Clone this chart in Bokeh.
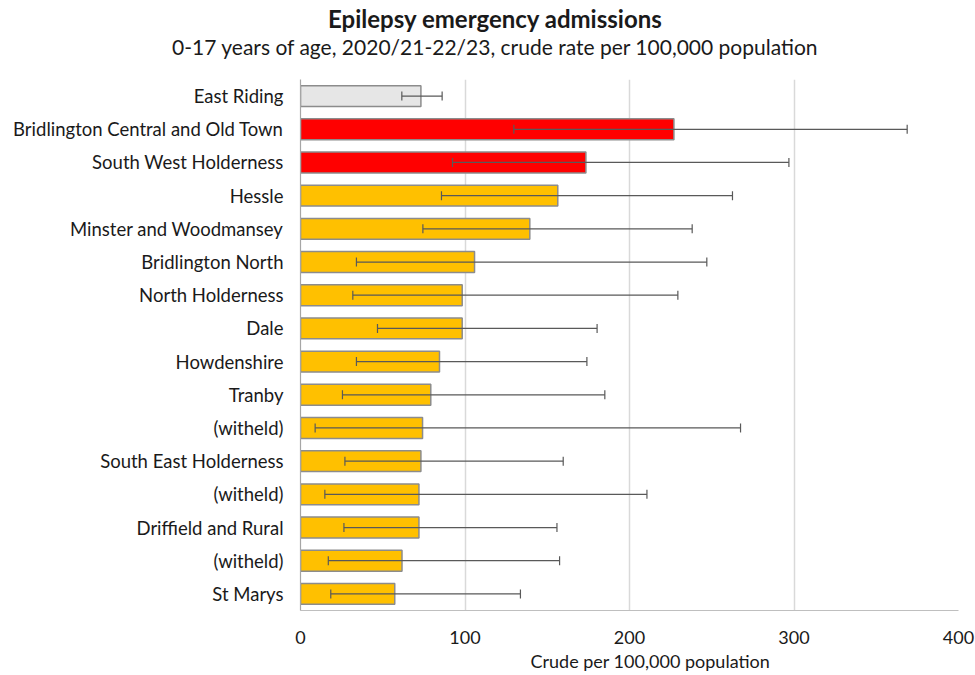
from bokeh.plotting import figure
from bokeh.layouts import column
from bokeh.models import (ColumnDataSource, Range1d, FixedTicker, Whisker,
                          TeeHead, Title)
from bokeh.core.properties import value
from bokeh.embed import file_html
from bokeh.resources import INLINE

# Epilepsy emergency admissions, 0-17 years, crude rate per 100,000
areas = ["East Riding", "Bridlington Central and Old Town", "South West Holderness",
         "Hessle", "Minster and Woodmansey", "Bridlington North", "North Holderness",
         "Dale", "Howdenshire", "Tranby", "(witheld)", "South East Holderness",
         "(witheld)", "Driffield and Rural", "(witheld)", "St Marys"]
rates = [73.2, 227.0, 173.5, 156.4, 139.4, 105.8, 98.3, 98.3, 84.5, 79.2,
         74.2, 73.2, 72.0, 72.0, 61.7, 57.3]
ci_lower = [61.6, 129.7, 92.4, 85.7, 74.4, 34.0, 31.8, 46.8, 34.0, 25.5,
            8.9, 27.0, 14.8, 26.4, 16.9, 18.4]
ci_upper = [86.1, 368.8, 296.9, 262.6, 238.1, 247.0, 229.4, 180.3, 174.1, 185.0,
            267.5, 159.7, 210.6, 155.9, 157.5, 133.7]
comparison = ["benchmark", "higher", "higher"] + ["similar"] * 13
x_ticks = [0, 100, 200, 300, 400]

heading = "Epilepsy emergency admissions"
subheading = "0-17 years of age, 2020/21-22/23, crude rate per 100,000 population"
x_label = "Crude per 100,000 population"

FONT = "Lato"
TEXT = "#1a1a1a"
palette = {"benchmark": "#e6e6e6", "higher": "#ff0000", "similar": "#ffc000"}

W, HEAD_H = 975, 79

# --- heading strip (pixel coordinates, y downwards) ---
head = figure(width=W, height=HEAD_H, output_backend="svg", toolbar_location=None,
              x_range=Range1d(0, W), y_range=Range1d(HEAD_H, 0),
              x_axis_type=None, y_axis_type=None, min_border=0)
head.frame_align = False
head.outline_line_color = None
head.grid.visible = False
head.text(x=[495], y=[18], text=[heading], text_align="center",
          text_baseline="middle", text_font=value(FONT), text_font_size="24px",
          text_font_style="bold", text_color=TEXT)
head.text(x=[495], y=[46], text=[subheading], text_align="center",
          text_baseline="middle", text_font=value(FONT), text_font_size="21px",
          text_color=TEXT)

# --- bar chart ---
positions = list(range(len(areas)))
src = ColumnDataSource(dict(
    y=positions, rate=rates, lo=ci_lower, hi=ci_upper,
    color=[palette[c] for c in comparison],
))

p = figure(width=W, height=675 - HEAD_H, output_backend="svg", toolbar_location=None,
           x_range=Range1d(0, 400), y_range=Range1d(len(areas) - 0.5, -0.5),
           min_border_left=300, min_border_right=17, min_border_top=0,
           min_border_bottom=65)
p.frame_align = False
p.outline_line_color = None
p.background_fill_color = "white"
p.border_fill_color = "white"
p.title.visible = False

p.hbar(y="y", left=0, right="rate", height=0.63, source=src,
       fill_color="color", line_color="#8c8c8c", line_width=1.5)

# confidence intervals drawn over the bars
err = Whisker(base="y", lower="lo", upper="hi", dimension="width", source=src,
              line_color="#595959", line_width=1.2, level="overlay",
              upper_head=TeeHead(size=9, line_color="#595959", line_width=1.2),
              lower_head=TeeHead(size=9, line_color="#595959", line_width=1.2))
p.add_layout(err)

# y axis: area names
p.yaxis.ticker = FixedTicker(ticks=positions)
p.yaxis.major_label_overrides = {i: n for i, n in enumerate(areas)}
p.yaxis.major_tick_line_color = None
p.yaxis.minor_tick_line_color = None
p.yaxis.axis_line_color = "#a6a6a6"
p.yaxis.axis_line_width = 1.2
p.yaxis.major_label_standoff = 11
p.yaxis.major_label_text_font = FONT
p.yaxis.major_label_text_font_size = "18.5px"
p.yaxis.major_label_text_color = TEXT
p.ygrid.grid_line_color = None

# x axis
p.xaxis.ticker = FixedTicker(ticks=x_ticks)
p.xaxis.major_tick_line_color = None
p.xaxis.minor_tick_line_color = None
p.xaxis.axis_line_color = "#bfbfbf"
p.xaxis.axis_line_width = 1.2
p.xaxis.major_label_standoff = 14
p.xaxis.major_label_text_font = FONT
p.xaxis.major_label_text_font_size = "18px"
p.xaxis.major_label_text_color = TEXT
p.xgrid.ticker = FixedTicker(ticks=x_ticks[1:])
p.xgrid.grid_line_color = "#d9d9d9"
p.xgrid.grid_line_width = 1.5

p.add_layout(Title(text=x_label, align="left", offset=230, standoff=2,
                   text_font=FONT, text_font_size="18px", text_font_style="normal",
                   text_color=TEXT), "below")

layout = column(head, p, spacing=0)
open("out.html", "w").write(file_html(layout, INLINE))
